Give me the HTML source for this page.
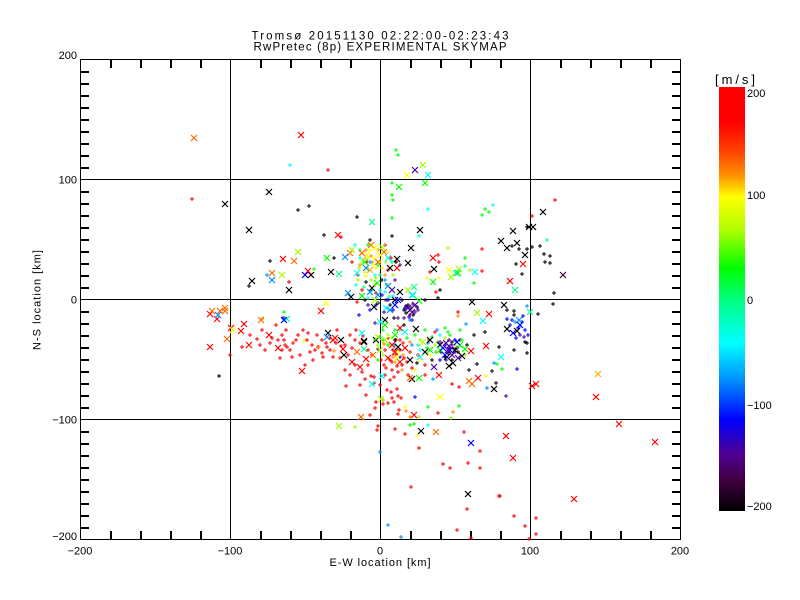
<!DOCTYPE html>
<html><head><meta charset="utf-8"><style>
html,body{margin:0;padding:0;background:#fff;}
svg{display:block;}
text{font-family:"Liberation Sans",sans-serif;fill:#000;}
</style></head><body>
<svg width="800" height="600" viewBox="0 0 800 600" xmlns="http://www.w3.org/2000/svg">
<defs>
<path id="mx" d="M-3-3L3 3M-3 3L3-3"/>
<path id="mp" d="M-2 0H2M0-2V2"/>
<linearGradient id="cb" x1="0" y1="0" x2="0" y2="1">
<stop offset="0" stop-color="#ff0000"/>
<stop offset="0.083" stop-color="#ff0000"/>
<stop offset="0.149" stop-color="#ff4000"/>
<stop offset="0.208" stop-color="#ff9000"/>
<stop offset="0.259" stop-color="#ffff00"/>
<stop offset="0.337" stop-color="#b0ff00"/>
<stop offset="0.427" stop-color="#00ff00"/>
<stop offset="0.502" stop-color="#00ff80"/>
<stop offset="0.604" stop-color="#00ffff"/>
<stop offset="0.691" stop-color="#0090ff"/>
<stop offset="0.785" stop-color="#0000ff"/>
<stop offset="0.868" stop-color="#500090"/>
<stop offset="0.927" stop-color="#400040"/>
<stop offset="1" stop-color="#000000"/>
</linearGradient>
</defs>
<rect width="800" height="600" fill="#fff"/>

<!-- titles -->
<text x="380" y="39.5" font-size="11.5" text-anchor="middle" textLength="257" lengthAdjust="spacing">Tromsø 20151130 02:22:00-02:23:43</text>
<text x="380" y="50.5" font-size="11.5" text-anchor="middle" textLength="253" lengthAdjust="spacing">RwPretec (8p) EXPERIMENTAL SKYMAP</text>

<!-- frame and grid -->
<g stroke="#000" stroke-width="1" fill="none">
<rect x="80.5" y="59.5" width="600" height="480"/>
<line x1="230.5" y1="59.5" x2="230.5" y2="539.5"/>
<line x1="380.5" y1="59.5" x2="380.5" y2="539.5"/>
<line x1="530.5" y1="59.5" x2="530.5" y2="539.5"/>
<line x1="80.5" y1="179.5" x2="680.5" y2="179.5"/>
<line x1="80.5" y1="299.5" x2="680.5" y2="299.5"/>
<line x1="80.5" y1="419.5" x2="680.5" y2="419.5"/>
</g>
<!-- minor ticks -->
<g fill="#000" stroke="none">
<rect x="110" y="60" width="2" height="8"/><rect x="140" y="60" width="2" height="8"/><rect x="170" y="60" width="2" height="8"/><rect x="200" y="60" width="2" height="8"/><rect x="260" y="60" width="2" height="8"/><rect x="290" y="60" width="2" height="8"/><rect x="320" y="60" width="2" height="8"/><rect x="350" y="60" width="2" height="8"/><rect x="410" y="60" width="2" height="8"/><rect x="440" y="60" width="2" height="8"/><rect x="470" y="60" width="2" height="8"/><rect x="500" y="60" width="2" height="8"/><rect x="560" y="60" width="2" height="8"/><rect x="590" y="60" width="2" height="8"/><rect x="620" y="60" width="2" height="8"/><rect x="650" y="60" width="2" height="8"/>
<rect x="110" y="531" width="2" height="8"/><rect x="140" y="531" width="2" height="8"/><rect x="170" y="531" width="2" height="8"/><rect x="200" y="531" width="2" height="8"/><rect x="260" y="531" width="2" height="8"/><rect x="290" y="531" width="2" height="8"/><rect x="320" y="531" width="2" height="8"/><rect x="350" y="531" width="2" height="8"/><rect x="410" y="531" width="2" height="8"/><rect x="440" y="531" width="2" height="8"/><rect x="470" y="531" width="2" height="8"/><rect x="500" y="531" width="2" height="8"/><rect x="560" y="531" width="2" height="8"/><rect x="590" y="531" width="2" height="8"/><rect x="620" y="531" width="2" height="8"/><rect x="650" y="531" width="2" height="8"/>
<rect x="81" y="71" width="8" height="2"/><rect x="81" y="83" width="8" height="2"/><rect x="81" y="95" width="8" height="2"/><rect x="81" y="107" width="8" height="2"/><rect x="81" y="119" width="8" height="2"/><rect x="81" y="131" width="8" height="2"/><rect x="81" y="143" width="8" height="2"/><rect x="81" y="155" width="8" height="2"/><rect x="81" y="167" width="8" height="2"/><rect x="81" y="191" width="8" height="2"/><rect x="81" y="203" width="8" height="2"/><rect x="81" y="215" width="8" height="2"/><rect x="81" y="227" width="8" height="2"/><rect x="81" y="239" width="8" height="2"/><rect x="81" y="251" width="8" height="2"/><rect x="81" y="263" width="8" height="2"/><rect x="81" y="275" width="8" height="2"/><rect x="81" y="287" width="8" height="2"/><rect x="81" y="311" width="8" height="2"/><rect x="81" y="323" width="8" height="2"/><rect x="81" y="335" width="8" height="2"/><rect x="81" y="347" width="8" height="2"/><rect x="81" y="359" width="8" height="2"/><rect x="81" y="371" width="8" height="2"/><rect x="81" y="383" width="8" height="2"/><rect x="81" y="395" width="8" height="2"/><rect x="81" y="407" width="8" height="2"/><rect x="81" y="431" width="8" height="2"/><rect x="81" y="443" width="8" height="2"/><rect x="81" y="455" width="8" height="2"/><rect x="81" y="467" width="8" height="2"/><rect x="81" y="479" width="8" height="2"/><rect x="81" y="491" width="8" height="2"/><rect x="81" y="503" width="8" height="2"/><rect x="81" y="515" width="8" height="2"/><rect x="81" y="527" width="8" height="2"/>
<rect x="672" y="71" width="8" height="2"/><rect x="672" y="83" width="8" height="2"/><rect x="672" y="95" width="8" height="2"/><rect x="672" y="107" width="8" height="2"/><rect x="672" y="119" width="8" height="2"/><rect x="672" y="131" width="8" height="2"/><rect x="672" y="143" width="8" height="2"/><rect x="672" y="155" width="8" height="2"/><rect x="672" y="167" width="8" height="2"/><rect x="672" y="191" width="8" height="2"/><rect x="672" y="203" width="8" height="2"/><rect x="672" y="215" width="8" height="2"/><rect x="672" y="227" width="8" height="2"/><rect x="672" y="239" width="8" height="2"/><rect x="672" y="251" width="8" height="2"/><rect x="672" y="263" width="8" height="2"/><rect x="672" y="275" width="8" height="2"/><rect x="672" y="287" width="8" height="2"/><rect x="672" y="311" width="8" height="2"/><rect x="672" y="323" width="8" height="2"/><rect x="672" y="335" width="8" height="2"/><rect x="672" y="347" width="8" height="2"/><rect x="672" y="359" width="8" height="2"/><rect x="672" y="371" width="8" height="2"/><rect x="672" y="383" width="8" height="2"/><rect x="672" y="395" width="8" height="2"/><rect x="672" y="407" width="8" height="2"/><rect x="672" y="431" width="8" height="2"/><rect x="672" y="443" width="8" height="2"/><rect x="672" y="455" width="8" height="2"/><rect x="672" y="467" width="8" height="2"/><rect x="672" y="479" width="8" height="2"/><rect x="672" y="491" width="8" height="2"/><rect x="672" y="503" width="8" height="2"/><rect x="672" y="515" width="8" height="2"/><rect x="672" y="527" width="8" height="2"/>
</g>

<!-- axis labels -->
<g font-size="11" text-anchor="end">
<text x="77" y="59">200</text>
<text x="77" y="183.5">100</text>
<text x="77" y="303.5">0</text>
<text x="77" y="423.5">−100</text>
<text x="77" y="540">−200</text>
</g>
<g font-size="11" text-anchor="middle">
<text x="80" y="554.5">−200</text>
<text x="230" y="554.5">−100</text>
<text x="380" y="554.5">0</text>
<text x="530" y="554.5">100</text>
<text x="680" y="554.5">200</text>
</g>
<text x="380" y="566" font-size="11" text-anchor="middle" textLength="101" lengthAdjust="spacing">E-W location [km]</text>
<text transform="translate(40.5,300) rotate(-90)" font-size="11" text-anchor="middle" textLength="100" lengthAdjust="spacing">N-S location [km]</text>

<!-- colorbar -->
<rect x="719" y="87" width="26" height="424" fill="url(#cb)"/>
<text x="735" y="84" font-size="13" text-anchor="middle" textLength="40" lengthAdjust="spacing">[m/s]</text>
<g font-size="11">
<text x="747" y="97">200</text>
<text x="747" y="199">100</text>
<text x="747" y="304">0</text>
<text x="747" y="409">−100</text>
<text x="747" y="510">−200</text>
</g>

<!-- data: plus markers -->
<g fill="none" stroke-width="1">
<g stroke="#ff0000">
<use href="#mp" x="328" y="170"/><use href="#mp" x="192" y="199"/><use href="#mp" x="341" y="237"/><use href="#mp" x="289" y="282"/><use href="#mp" x="357" y="302"/><use href="#mp" x="276" y="325"/><use href="#mp" x="257" y="339"/><use href="#mp" x="270" y="343"/><use href="#mp" x="286" y="330"/><use href="#mp" x="282" y="335"/><use href="#mp" x="284" y="340"/><use href="#mp" x="285" y="345"/><use href="#mp" x="287" y="347"/><use href="#mp" x="290" y="350"/><use href="#mp" x="293" y="343"/><use href="#mp" x="282" y="350"/><use href="#mp" x="242" y="347"/><use href="#mp" x="303" y="330"/><use href="#mp" x="307" y="340"/><use href="#mp" x="312" y="345"/><use href="#mp" x="318" y="347"/><use href="#mp" x="322" y="353"/><use href="#mp" x="317" y="335"/><use href="#mp" x="322" y="340"/><use href="#mp" x="326" y="343"/><use href="#mp" x="330" y="338"/><use href="#mp" x="336" y="343"/><use href="#mp" x="345" y="345"/><use href="#mp" x="350" y="335"/><use href="#mp" x="355" y="340"/><use href="#mp" x="348" y="355"/><use href="#mp" x="356" y="330"/><use href="#mp" x="346" y="386"/><use href="#mp" x="365" y="379"/><use href="#mp" x="374" y="377"/><use href="#mp" x="376" y="402"/><use href="#mp" x="375" y="408"/><use href="#mp" x="377" y="430"/><use href="#mp" x="378" y="426"/><use href="#mp" x="555" y="200"/><use href="#mp" x="532" y="216"/><use href="#mp" x="482" y="249"/><use href="#mp" x="438" y="255"/><use href="#mp" x="439" y="262"/><use href="#mp" x="430" y="272"/><use href="#mp" x="482" y="271"/><use href="#mp" x="436" y="292"/><use href="#mp" x="458" y="312"/><use href="#mp" x="425" y="375"/><use href="#mp" x="452" y="384"/><use href="#mp" x="459" y="387"/><use href="#mp" x="438" y="413"/><use href="#mp" x="387" y="390"/><use href="#mp" x="391" y="392"/><use href="#mp" x="397" y="389"/><use href="#mp" x="398" y="396"/><use href="#mp" x="401" y="398"/><use href="#mp" x="392" y="398"/><use href="#mp" x="394" y="402"/><use href="#mp" x="388" y="403"/><use href="#mp" x="383" y="404"/><use href="#mp" x="399" y="410"/><use href="#mp" x="398" y="414"/><use href="#mp" x="405" y="434"/><use href="#mp" x="395" y="429"/><use href="#mp" x="480" y="451"/><use href="#mp" x="468" y="463"/><use href="#mp" x="450" y="468"/><use href="#mp" x="443" y="464"/><use href="#mp" x="419" y="448"/><use href="#mp" x="411" y="487"/><use href="#mp" x="499" y="496"/><use href="#mp" x="464" y="432"/><use href="#mp" x="467" y="509"/><use href="#mp" x="457" y="530"/><use href="#mp" x="471" y="538"/><use href="#mp" x="500" y="496"/><use href="#mp" x="514" y="516"/><use href="#mp" x="525" y="526"/><use href="#mp" x="536" y="518"/><use href="#mp" x="536" y="534"/><use href="#mp" x="529" y="539"/><use href="#mp" x="480" y="468"/><use href="#mp" x="371" y="376"/><use href="#mp" x="374" y="383"/><use href="#mp" x="385" y="375"/><use href="#mp" x="380" y="385"/><use href="#mp" x="390" y="380"/><use href="#mp" x="384" y="365"/><use href="#mp" x="392" y="370"/><use href="#mp" x="398" y="372"/><use href="#mp" x="408" y="375"/><use href="#mp" x="368" y="365"/><use href="#mp" x="372" y="355"/><use href="#mp" x="260" y="345"/><use href="#mp" x="300" y="355"/><use href="#mp" x="310" y="352"/><use href="#mp" x="330" y="350"/><use href="#mp" x="340" y="358"/><use href="#mp" x="362" y="372"/><use href="#mp" x="355" y="365"/><use href="#mp" x="395" y="355"/><use href="#mp" x="400" y="350"/><use href="#mp" x="390" y="360"/><use href="#mp" x="402" y="365"/><use href="#mp" x="410" y="352"/><use href="#mp" x="385" y="350"/><use href="#mp" x="418" y="355"/><use href="#mp" x="425" y="365"/><use href="#mp" x="429" y="340"/><use href="#mp" x="435" y="332"/><use href="#mp" x="230" y="355"/><use href="#mp" x="265" y="350"/><use href="#mp" x="296" y="340"/><use href="#mp" x="280" y="358"/><use href="#mp" x="323" y="357"/><use href="#mp" x="337" y="330"/><use href="#mp" x="313" y="360"/><use href="#mp" x="305" y="365"/><use href="#mp" x="350" y="375"/><use href="#mp" x="345" y="370"/><use href="#mp" x="360" y="385"/><use href="#mp" x="366" y="395"/><use href="#mp" x="370" y="415"/><use href="#mp" x="367" y="262"/><use href="#mp" x="362" y="290"/><use href="#mp" x="388" y="270"/><use href="#mp" x="396" y="340"/><use href="#mp" x="393" y="350"/><use href="#mp" x="403" y="343"/>
<use href="#mp" x="358" y="275"/><use href="#mp" x="376" y="293"/><use href="#mp" x="391" y="258"/><use href="#mp" x="385" y="245"/><use href="#mp" x="352" y="262"/><use href="#mp" x="388" y="338"/><use href="#mp" x="392" y="362"/><use href="#mp" x="397" y="366"/><use href="#mp" x="404" y="358"/><use href="#mp" x="386" y="368"/><use href="#mp" x="400" y="340"/><use href="#mp" x="407" y="362"/><use href="#mp" x="412" y="368"/><use href="#mp" x="394" y="377"/><use href="#mp" x="381" y="360"/><use href="#mp" x="250" y="335"/><use href="#mp" x="262" y="330"/><use href="#mp" x="272" y="338"/><use href="#mp" x="298" y="335"/><use href="#mp" x="308" y="333"/><use href="#mp" x="315" y="350"/><use href="#mp" x="327" y="347"/><use href="#mp" x="333" y="357"/><use href="#mp" x="341" y="346"/><use href="#mp" x="352" y="348"/><use href="#mp" x="360" y="343"/><use href="#mp" x="368" y="350"/><use href="#mp" x="363" y="336"/><use href="#mp" x="278" y="340"/><use href="#mp" x="292" y="357"/>
</g>
<g stroke="#000000">
<use href="#mp" x="298" y="210"/><use href="#mp" x="309" y="206"/><use href="#mp" x="357" y="217"/><use href="#mp" x="324" y="235"/><use href="#mp" x="334" y="258"/><use href="#mp" x="270" y="261"/><use href="#mp" x="249" y="286"/><use href="#mp" x="527" y="227"/><use href="#mp" x="512" y="246"/><use href="#mp" x="519" y="249"/><use href="#mp" x="527" y="249"/><use href="#mp" x="532" y="247"/><use href="#mp" x="540" y="246"/><use href="#mp" x="544" y="254"/><use href="#mp" x="550" y="256"/><use href="#mp" x="545" y="262"/><use href="#mp" x="550" y="263"/><use href="#mp" x="516" y="264"/><use href="#mp" x="522" y="274"/><use href="#mp" x="554" y="293"/><use href="#mp" x="553" y="304"/><use href="#mp" x="438" y="298"/><use href="#mp" x="507" y="310"/><use href="#mp" x="538" y="314"/><use href="#mp" x="514" y="311"/><use href="#mp" x="514" y="315"/><use href="#mp" x="525" y="342"/><use href="#mp" x="527" y="343"/><use href="#mp" x="499" y="347"/><use href="#mp" x="514" y="350"/><use href="#mp" x="485" y="332"/><use href="#mp" x="477" y="364"/><use href="#mp" x="492" y="371"/><use href="#mp" x="469" y="370"/><use href="#mp" x="496" y="383"/><use href="#mp" x="527" y="353"/><use href="#mp" x="219" y="376"/><use href="#mp" x="467" y="345"/><use href="#mp" x="460" y="340"/><use href="#mp" x="474" y="335"/><use href="#mp" x="440" y="290"/><use href="#mp" x="425" y="300"/><use href="#mp" x="392" y="236"/><use href="#mp" x="396" y="262"/><use href="#mp" x="366" y="282"/><use href="#mp" x="386" y="300"/><use href="#mp" x="402" y="300"/><use href="#mp" x="394" y="318"/><use href="#mp" x="404" y="325"/><use href="#mp" x="395" y="340"/><use href="#mp" x="458" y="352"/><use href="#mp" x="450" y="348"/><use href="#mp" x="445" y="357"/><use href="#mp" x="370" y="240"/><use href="#mp" x="408" y="305"/><use href="#mp" x="413" y="315"/><use href="#mp" x="406" y="313"/><use href="#mp" x="452" y="342"/><use href="#mp" x="448" y="353"/>
<use href="#mp" x="378" y="303"/><use href="#mp" x="365" y="300"/><use href="#mp" x="390" y="305"/><use href="#mp" x="382" y="280"/><use href="#mp" x="452" y="360"/><use href="#mp" x="441" y="352"/><use href="#mp" x="457" y="348"/><use href="#mp" x="432" y="360"/><use href="#mp" x="417" y="363"/><use href="#mp" x="404" y="310"/><use href="#mp" x="417" y="307"/>
</g>
<g stroke="#ff9000">
<use href="#mp" x="458" y="316"/><use href="#mp" x="319" y="347"/><use href="#mp" x="334" y="351"/><use href="#mp" x="383" y="400"/><use href="#mp" x="453" y="412"/><use href="#mp" x="410" y="417"/><use href="#mp" x="406" y="411"/><use href="#mp" x="262" y="319"/><use href="#mp" x="365" y="258"/><use href="#mp" x="372" y="262"/><use href="#mp" x="378" y="250"/><use href="#mp" x="360" y="265"/><use href="#mp" x="385" y="275"/><use href="#mp" x="375" y="285"/><use href="#mp" x="410" y="342"/><use href="#mp" x="402" y="370"/><use href="#mp" x="366" y="250"/><use href="#mp" x="371" y="256"/><use href="#mp" x="395" y="362"/><use href="#mp" x="393" y="357"/><use href="#mp" x="403" y="355"/><use href="#mp" x="384" y="344"/>
</g>
<g stroke="#ffff00">
<use href="#mp" x="304" y="341"/><use href="#mp" x="427" y="278"/><use href="#mp" x="439" y="278"/><use href="#mp" x="486" y="376"/><use href="#mp" x="405" y="407"/><use href="#mp" x="417" y="436"/><use href="#mp" x="370" y="250"/><use href="#mp" x="373" y="265"/><use href="#mp" x="380" y="262"/><use href="#mp" x="365" y="272"/><use href="#mp" x="390" y="345"/><use href="#mp" x="398" y="352"/><use href="#mp" x="420" y="360"/><use href="#mp" x="430" y="355"/><use href="#mp" x="415" y="370"/><use href="#mp" x="368" y="258"/><use href="#mp" x="376" y="268"/><use href="#mp" x="374" y="258"/><use href="#mp" x="382" y="268"/><use href="#mp" x="366" y="276"/><use href="#mp" x="388" y="252"/>
</g>
<g stroke="#a0ff00">
<use href="#mp" x="448" y="248"/><use href="#mp" x="470" y="270"/><use href="#mp" x="355" y="427"/><use href="#mp" x="451" y="418"/><use href="#mp" x="419" y="417"/><use href="#mp" x="362" y="262"/><use href="#mp" x="358" y="280"/><use href="#mp" x="376" y="278"/><use href="#mp" x="388" y="335"/><use href="#mp" x="392" y="338"/><use href="#mp" x="378" y="345"/><use href="#mp" x="383" y="355"/><use href="#mp" x="420" y="340"/><use href="#mp" x="435" y="345"/><use href="#mp" x="445" y="338"/><use href="#mp" x="455" y="345"/><use href="#mp" x="465" y="355"/><use href="#mp" x="359" y="268"/><use href="#mp" x="371" y="280"/><use href="#mp" x="386" y="262"/><use href="#mp" x="393" y="275"/>
</g>
<g stroke="#00ff00">
<use href="#mp" x="284" y="312"/><use href="#mp" x="314" y="269"/><use href="#mp" x="396" y="150"/><use href="#mp" x="398" y="155"/><use href="#mp" x="392" y="183"/><use href="#mp" x="392" y="195"/><use href="#mp" x="393" y="200"/><use href="#mp" x="392" y="218"/><use href="#mp" x="485" y="209"/><use href="#mp" x="489" y="212"/><use href="#mp" x="482" y="215"/><use href="#mp" x="465" y="258"/><use href="#mp" x="474" y="283"/><use href="#mp" x="497" y="364"/><use href="#mp" x="502" y="369"/><use href="#mp" x="428" y="407"/><use href="#mp" x="459" y="406"/><use href="#mp" x="410" y="425"/><use href="#mp" x="414" y="424"/><use href="#mp" x="368" y="245"/><use href="#mp" x="378" y="265"/><use href="#mp" x="372" y="290"/><use href="#mp" x="387" y="285"/><use href="#mp" x="383" y="330"/><use href="#mp" x="388" y="345"/><use href="#mp" x="375" y="340"/><use href="#mp" x="378" y="360"/><use href="#mp" x="395" y="330"/><use href="#mp" x="432" y="337"/><use href="#mp" x="438" y="342"/><use href="#mp" x="450" y="335"/><use href="#mp" x="462" y="340"/><use href="#mp" x="445" y="328"/><use href="#mp" x="425" y="330"/><use href="#mp" x="383" y="340"/><use href="#mp" x="407" y="338"/><use href="#mp" x="415" y="335"/><use href="#mp" x="427" y="348"/><use href="#mp" x="436" y="352"/><use href="#mp" x="448" y="332"/><use href="#mp" x="460" y="330"/>
</g>
<g stroke="#00ff90">
<use href="#mp" x="547" y="240"/><use href="#mp" x="465" y="266"/><use href="#mp" x="360" y="250"/><use href="#mp" x="392" y="262"/><use href="#mp" x="380" y="337"/><use href="#mp" x="418" y="345"/><use href="#mp" x="364" y="287"/><use href="#mp" x="389" y="297"/><use href="#mp" x="380" y="275"/>
</g>
<g stroke="#00ffff">
<use href="#mp" x="290" y="165"/><use href="#mp" x="428" y="209"/><use href="#mp" x="493" y="205"/><use href="#mp" x="419" y="236"/><use href="#mp" x="428" y="425"/><use href="#mp" x="355" y="245"/><use href="#mp" x="360" y="258"/><use href="#mp" x="375" y="275"/><use href="#mp" x="380" y="290"/><use href="#mp" x="400" y="330"/><use href="#mp" x="420" y="350"/><use href="#mp" x="440" y="335"/><use href="#mp" x="368" y="298"/><use href="#mp" x="385" y="292"/><use href="#mp" x="393" y="296"/><use href="#mp" x="356" y="285"/>
</g>
<g stroke="#0090ff">
<use href="#mp" x="267" y="275"/><use href="#mp" x="527" y="306"/><use href="#mp" x="466" y="324"/><use href="#mp" x="494" y="363"/><use href="#mp" x="487" y="388"/><use href="#mp" x="380" y="452"/><use href="#mp" x="388" y="525"/><use href="#mp" x="401" y="537"/><use href="#mp" x="515" y="322"/><use href="#mp" x="520" y="326"/><use href="#mp" x="410" y="320"/><use href="#mp" x="433" y="379"/><use href="#mp" x="370" y="262"/><use href="#mp" x="385" y="280"/><use href="#mp" x="395" y="345"/><use href="#mp" x="445" y="345"/><use href="#mp" x="412" y="345"/><use href="#mp" x="428" y="343"/><use href="#mp" x="437" y="330"/>
</g>
<g stroke="#0000ff">
<use href="#mp" x="359" y="315"/><use href="#mp" x="283" y="318"/><use href="#mp" x="507" y="319"/><use href="#mp" x="523" y="316"/><use href="#mp" x="517" y="369"/><use href="#mp" x="415" y="397"/><use href="#mp" x="512" y="320"/><use href="#mp" x="518" y="328"/><use href="#mp" x="525" y="330"/><use href="#mp" x="382" y="295"/><use href="#mp" x="388" y="300"/><use href="#mp" x="405" y="308"/><use href="#mp" x="455" y="340"/><use href="#mp" x="440" y="360"/><use href="#mp" x="400" y="357"/><use href="#mp" x="376" y="305"/><use href="#mp" x="393" y="310"/><use href="#mp" x="370" y="310"/><use href="#mp" x="412" y="320"/><use href="#mp" x="510" y="325"/><use href="#mp" x="522" y="322"/><use href="#mp" x="528" y="335"/><use href="#mp" x="516" y="338"/>
</g>
<g stroke="#5000a0">
<use href="#mp" x="375" y="323"/><use href="#mp" x="506" y="396"/><use href="#mp" x="378" y="349"/><use href="#mp" x="520" y="335"/><use href="#mp" x="410" y="315"/><use href="#mp" x="404" y="318"/><use href="#mp" x="418" y="310"/><use href="#mp" x="445" y="345"/><use href="#mp" x="455" y="352"/><use href="#mp" x="400" y="265"/><use href="#mp" x="395" y="280"/><use href="#mp" x="440" y="342"/><use href="#mp" x="368" y="305"/><use href="#mp" x="384" y="312"/><use href="#mp" x="398" y="318"/><use href="#mp" x="452" y="345"/><use href="#mp" x="449" y="340"/><use href="#mp" x="454" y="349"/><use href="#mp" x="446" y="360"/><use href="#mp" x="406" y="306"/><use href="#mp" x="411" y="308"/><use href="#mp" x="415" y="312"/><use href="#mp" x="409" y="317"/><use href="#mp" x="413" y="304"/><use href="#mp" x="524" y="337"/>
</g>
</g>

<!-- data: X markers -->
<g fill="none" stroke-width="1.2">
<g stroke="#000000">
<use href="#mx" x="269" y="192"/><use href="#mx" x="225" y="204"/><use href="#mx" x="249" y="230"/><use href="#mx" x="311" y="275"/><use href="#mx" x="331" y="272"/><use href="#mx" x="252" y="281"/><use href="#mx" x="289" y="290"/><use href="#mx" x="351" y="297"/><use href="#mx" x="420" y="230"/><use href="#mx" x="513" y="231"/><use href="#mx" x="529" y="227"/><use href="#mx" x="533" y="227"/><use href="#mx" x="501" y="241"/><use href="#mx" x="507" y="248"/><use href="#mx" x="517" y="243"/><use href="#mx" x="411" y="248"/><use href="#mx" x="525" y="255"/><use href="#mx" x="408" y="263"/><use href="#mx" x="397" y="259"/><use href="#mx" x="434" y="269"/><use href="#mx" x="472" y="302"/><use href="#mx" x="504" y="305"/><use href="#mx" x="507" y="329"/><use href="#mx" x="517" y="331"/><use href="#mx" x="494" y="389"/><use href="#mx" x="449" y="366"/><use href="#mx" x="453" y="363"/><use href="#mx" x="412" y="379"/><use href="#mx" x="421" y="431"/><use href="#mx" x="468" y="494"/><use href="#mx" x="328" y="333"/><use href="#mx" x="341" y="340"/><use href="#mx" x="344" y="355"/><use href="#mx" x="364" y="341"/><use href="#mx" x="376" y="340"/><use href="#mx" x="374" y="307"/><use href="#mx" x="400" y="292"/><use href="#mx" x="416" y="329"/><use href="#mx" x="364" y="342"/><use href="#mx" x="543" y="212"/><use href="#mx" x="390" y="268"/><use href="#mx" x="372" y="288"/><use href="#mx" x="395" y="300"/><use href="#mx" x="385" y="320"/><use href="#mx" x="455" y="350"/><use href="#mx" x="440" y="345"/><use href="#mx" x="430" y="340"/><use href="#mx" x="398" y="347"/><use href="#mx" x="410" y="360"/><use href="#mx" x="410" y="310"/><use href="#mx" x="447" y="357"/><use href="#mx" x="462" y="356"/><use href="#mx" x="425" y="352"/>
</g>
<g stroke="#400040"><use href="#mx" x="563" y="275"/></g>
<g stroke="#ff0000">
<use href="#mx" x="301" y="135"/><use href="#mx" x="338" y="235"/><use href="#mx" x="283" y="259"/><use href="#mx" x="308" y="271"/><use href="#mx" x="321" y="311"/><use href="#mx" x="210" y="314"/><use href="#mx" x="217" y="319"/><use href="#mx" x="210" y="347"/><use href="#mx" x="231" y="328"/><use href="#mx" x="244" y="324"/><use href="#mx" x="241" y="331"/><use href="#mx" x="249" y="345"/><use href="#mx" x="269" y="335"/><use href="#mx" x="278" y="348"/><use href="#mx" x="302" y="371"/><use href="#mx" x="333" y="340"/><use href="#mx" x="343" y="349"/><use href="#mx" x="352" y="362"/><use href="#mx" x="360" y="367"/><use href="#mx" x="366" y="359"/><use href="#mx" x="433" y="258"/><use href="#mx" x="523" y="264"/><use href="#mx" x="510" y="281"/><use href="#mx" x="397" y="268"/><use href="#mx" x="489" y="314"/><use href="#mx" x="486" y="346"/><use href="#mx" x="439" y="375"/><use href="#mx" x="478" y="378"/><use href="#mx" x="532" y="386"/><use href="#mx" x="536" y="384"/><use href="#mx" x="506" y="436"/><use href="#mx" x="513" y="458"/><use href="#mx" x="414" y="415"/><use href="#mx" x="596" y="397"/><use href="#mx" x="619" y="424"/><use href="#mx" x="655" y="442"/><use href="#mx" x="574" y="499"/><use href="#mx" x="471" y="351"/><use href="#mx" x="335" y="338"/><use href="#mx" x="400" y="328"/><use href="#mx" x="395" y="352"/><use href="#mx" x="388" y="358"/><use href="#mx" x="400" y="362"/><use href="#mx" x="392" y="345"/><use href="#mx" x="405" y="348"/>
</g>
<g stroke="#ff6a00">
<use href="#mx" x="194" y="138"/><use href="#mx" x="212" y="311"/><use href="#mx" x="220" y="311"/><use href="#mx" x="225" y="311"/><use href="#mx" x="225" y="308"/><use href="#mx" x="227" y="339"/><use href="#mx" x="261" y="320"/><use href="#mx" x="294" y="261"/><use href="#mx" x="350" y="253"/><use href="#mx" x="272" y="273"/><use href="#mx" x="357" y="352"/><use href="#mx" x="373" y="355"/><use href="#mx" x="361" y="417"/><use href="#mx" x="436" y="432"/><use href="#mx" x="469" y="381"/><use href="#mx" x="472" y="384"/><use href="#mx" x="410" y="378"/><use href="#mx" x="378" y="262"/><use href="#mx" x="362" y="253"/><use href="#mx" x="371" y="245"/><use href="#mx" x="384" y="252"/>
</g>
<g stroke="#ffb000"><use href="#mx" x="598" y="374"/><use href="#mx" x="370" y="270"/></g>
<g stroke="#ffff00">
<use href="#mx" x="326" y="303"/><use href="#mx" x="233" y="330"/><use href="#mx" x="407" y="175"/><use href="#mx" x="449" y="270"/><use href="#mx" x="440" y="397"/><use href="#mx" x="367" y="255"/><use href="#mx" x="375" y="248"/><use href="#mx" x="380" y="255"/><use href="#mx" x="397" y="358"/>
</g>
<g stroke="#a0ff00">
<use href="#mx" x="298" y="252"/><use href="#mx" x="352" y="250"/><use href="#mx" x="282" y="275"/><use href="#mx" x="423" y="165"/><use href="#mx" x="459" y="269"/><use href="#mx" x="451" y="277"/><use href="#mx" x="477" y="313"/><use href="#mx" x="339" y="426"/><use href="#mx" x="382" y="247"/><use href="#mx" x="381" y="399"/><use href="#mx" x="408" y="290"/><use href="#mx" x="375" y="300"/><use href="#mx" x="385" y="340"/><use href="#mx" x="380" y="350"/><use href="#mx" x="378" y="337"/><use href="#mx" x="423" y="342"/>
</g>
<g stroke="#00ff00">
<use href="#mx" x="327" y="258"/><use href="#mx" x="425" y="183"/><use href="#mx" x="399" y="187"/><use href="#mx" x="433" y="282"/><use href="#mx" x="419" y="301"/><use href="#mx" x="465" y="349"/><use href="#mx" x="419" y="378"/><use href="#mx" x="458" y="273"/><use href="#mx" x="385" y="325"/><use href="#mx" x="395" y="335"/><use href="#mx" x="430" y="350"/><use href="#mx" x="440" y="350"/><use href="#mx" x="460" y="345"/><use href="#mx" x="365" y="262"/><use href="#mx" x="377" y="283"/><use href="#mx" x="362" y="296"/>
</g>
<g stroke="#00ff90">
<use href="#mx" x="372" y="222"/><use href="#mx" x="339" y="274"/><use href="#mx" x="287" y="319"/><use href="#mx" x="515" y="290"/><use href="#mx" x="364" y="349"/><use href="#mx" x="456" y="273"/><use href="#mx" x="530" y="312"/><use href="#mx" x="413" y="295"/><use href="#mx" x="414" y="287"/>
</g>
<g stroke="#00ffff">
<use href="#mx" x="357" y="273"/><use href="#mx" x="362" y="333"/><use href="#mx" x="372" y="384"/><use href="#mx" x="428" y="175"/><use href="#mx" x="475" y="272"/><use href="#mx" x="412" y="295"/><use href="#mx" x="483" y="321"/><use href="#mx" x="501" y="357"/><use href="#mx" x="382" y="376"/><use href="#mx" x="388" y="258"/><use href="#mx" x="380" y="322"/><use href="#mx" x="386" y="308"/><use href="#mx" x="392" y="290"/><use href="#mx" x="420" y="357"/><use href="#mx" x="405" y="332"/>
</g>
<g stroke="#0090ff">
<use href="#mx" x="345" y="257"/><use href="#mx" x="272" y="280"/><use href="#mx" x="348" y="293"/><use href="#mx" x="218" y="315"/><use href="#mx" x="327" y="337"/><use href="#mx" x="366" y="268"/><use href="#mx" x="378" y="295"/><use href="#mx" x="390" y="310"/><use href="#mx" x="370" y="292"/><use href="#mx" x="388" y="286"/><use href="#mx" x="519" y="320"/>
</g>
<g stroke="#0000ff">
<use href="#mx" x="305" y="275"/><use href="#mx" x="284" y="320"/><use href="#mx" x="513" y="333"/><use href="#mx" x="471" y="443"/><use href="#mx" x="520" y="325"/><use href="#mx" x="398" y="300"/><use href="#mx" x="450" y="350"/><use href="#mx" x="445" y="355"/><use href="#mx" x="395" y="305"/><use href="#mx" x="443" y="348"/><use href="#mx" x="457" y="342"/>
</g>
<g stroke="#5000a0">
<use href="#mx" x="415" y="170"/><use href="#mx" x="434" y="367"/><use href="#mx" x="408" y="308"/><use href="#mx" x="412" y="312"/><use href="#mx" x="415" y="305"/><use href="#mx" x="448" y="350"/><use href="#mx" x="452" y="355"/><use href="#mx" x="392" y="290"/><use href="#mx" x="449" y="346"/><use href="#mx" x="446" y="343"/><use href="#mx" x="458" y="358"/>
</g>
</g>
</svg>
</body></html>
